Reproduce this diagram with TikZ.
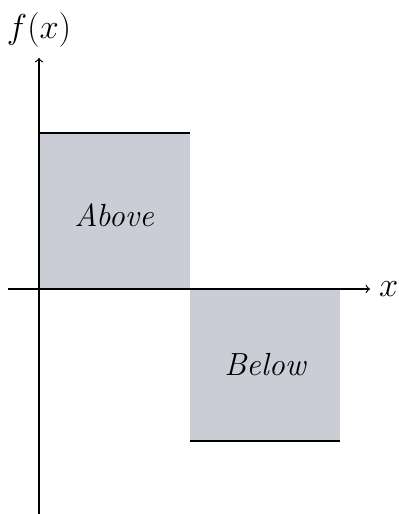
\documentclass[tikz,border=0pt]{standalone}
\usepackage{amsmath}
\usepackage{tikz}
\usetikzlibrary{positioning}
\definecolor{regionfill}{RGB}{203,205,214}

\begin{document}
\begin{tikzpicture}[x=0.5pt, y=0.5pt,
        axis/.style={->, semithick},
        region/.style={fill=regionfill, draw=none},
        edge/.style={thick},
        regionlabel/.style={font=\fontsize{16}{19}\selectfont\itshape},
        axislabel/.style={font=\fontsize{17}{20}\selectfont}]
        \useasboundingbox (-39,-225) rectangle (360,289);

        \coordinate (origin) at (0,0);
        \coordinate (ybottom) at (0,-225);
        \coordinate (ytop) at (0,231);
        \coordinate (xleft) at (-31,0);
        \coordinate (xright) at (331,0);

        % shaded regions
        \fill[region] (0,0) rectangle (151,156);
        \fill[region] (151,0) rectangle (301,-152);
        \draw[edge] (0,156) -- (151,156);
        \draw[edge] (151,-152) -- (301,-152);

        \node[regionlabel] (above) at (75,74) {Above};
        \node[regionlabel] (below) at (226,-76) {Below};

        % axes
        \draw[axis] (xleft) -- (xright);
        \draw[axis] (ybottom) -- (ytop);
        \node[axislabel, right=1pt of xright] (xlabel) {$x$};
        \node[axislabel, above=2pt of ytop] (ylabel) {$f(x)$};
    \end{tikzpicture}
\end{document}
